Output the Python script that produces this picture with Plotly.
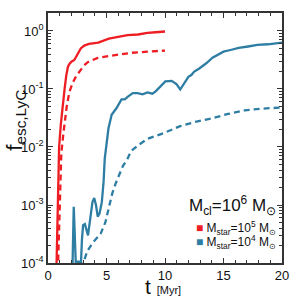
import plotly.graph_objects as go

# Red (M_star = 1e5) solid
t_red = [0.70, 0.78, 0.85, 0.95, 1.1, 1.28, 1.42, 1.56, 1.7, 1.83, 2.0, 2.25, 2.5, 2.8, 3.1, 3.5, 4.3, 4.6, 5.2, 6.0, 6.8, 7.7, 8.5, 9.2, 10.0]
f_red = [5e-5, 3.2e-4, 3.2e-3, 1.0e-2, 0.025, 0.062, 0.10, 0.17, 0.24, 0.27, 0.295, 0.316, 0.38, 0.50, 0.56, 0.60, 0.63, 0.66, 0.74, 0.79, 0.85, 0.87, 0.93, 0.95, 0.98]
# Red dashed
t_red_d = [0.82, 0.92, 1.0, 1.14, 1.3, 1.42, 1.6, 1.83, 2.1, 2.4, 2.8, 3.1, 3.4, 3.8, 4.2, 5.2, 6.4, 7.1, 8.5, 10.0]
f_red_d = [5e-5, 3.2e-4, 1.6e-3, 7.9e-3, 0.016, 0.028, 0.05, 0.089, 0.126, 0.166, 0.21, 0.257, 0.29, 0.316, 0.34, 0.37, 0.40, 0.42, 0.44, 0.46]
# Blue (M_star = 1e4) solid
t_blue = [1.97, 2.1, 2.2, 2.3, 2.39, 2.5, 2.6, 2.7, 2.8, 2.9, 3.0, 3.15, 3.3, 3.42, 3.6, 3.8, 3.95, 4.1, 4.25, 4.4, 4.6, 4.75, 4.85, 5.0, 5.17, 5.44, 5.86, 6.28, 6.56, 6.83, 7.25, 7.67, 8.08, 8.5, 8.92, 9.2, 9.61, 10.03, 10.58, 11.0, 11.3, 11.7, 12.0, 12.25, 12.5, 12.9, 13.5, 14.06, 14.6, 15.0, 15.6, 16.3, 17.1, 17.9, 18.8, 20.0]
f_blue = [5e-5, 1.0e-4, 9.3e-4, 1.6e-4, 8e-5, 1.1e-4, 8e-5, 1.1e-4, 8e-5, 2.5e-4, 4.5e-4, 4.7e-4, 3.5e-4, 3.0e-4, 5.6e-4, 1.12e-3, 1.32e-3, 1.0e-3, 6.3e-4, 7.1e-4, 1.12e-3, 2.5e-3, 6.3e-3, 0.0126, 0.021, 0.036, 0.047, 0.066, 0.066, 0.074, 0.085, 0.085, 0.081, 0.087, 0.083, 0.091, 0.11, 0.135, 0.138, 0.12, 0.098, 0.135, 0.162, 0.174, 0.20, 0.224, 0.275, 0.347, 0.40, 0.44, 0.47, 0.51, 0.54, 0.575, 0.59, 0.63]
# Blue dashed
t_blue_d = [2.85, 3.36, 3.8, 4.2, 4.5, 4.9, 5.2, 5.5, 5.8, 6.0, 6.4, 6.8, 7.1, 7.7, 8.5, 9.9, 11.3, 12.7, 14.1, 15.4, 16.8, 18.2, 20.0]
f_blue_d = [8e-5, 1.6e-4, 2.2e-4, 2.7e-4, 3.2e-4, 5.0e-4, 8.5e-4, 1.6e-3, 2.4e-3, 3.0e-3, 4.7e-3, 6.3e-3, 8.5e-3, 0.0107, 0.0138, 0.0174, 0.0229, 0.0275, 0.0316, 0.0372, 0.0427, 0.0457, 0.0479]

x_ticks = [0, 5, 10, 15, 20]
y_ticks = [1e-4, 1e-3, 1e-2, 1e-1, 1]
y_tick_text = ["10<sup>-4</sup>", "10<sup>-3</sup>", "10<sup>-2</sup>", "10<sup>-1</sup>", "10<sup>0</sup>"]
y_minor = [m * d for d in [1e-4, 1e-3, 1e-2, 1e-1, 1] for m in range(2, 10) if m * d < 2.0]

RED = "#ee1d23"
BLUE = "#2e7ea4"
FONT = "Liberation Sans"

fig = go.Figure()
fig.add_trace(go.Scatter(x=t_red, y=f_red, mode="lines", line=dict(color=RED, width=2.3), showlegend=False))
fig.add_trace(go.Scatter(x=t_red_d, y=f_red_d, mode="lines", line=dict(color=RED, width=2.3, dash="6px,4px"), showlegend=False))
fig.add_trace(go.Scatter(x=t_blue, y=f_blue, mode="lines", line=dict(color=BLUE, width=2.3), showlegend=False))
fig.add_trace(go.Scatter(x=t_blue_d, y=f_blue_d, mode="lines", line=dict(color=BLUE, width=2.3, dash="6px,4px"), showlegend=False))

axis_common = dict(showline=True, linecolor="#333", linewidth=1.5, mirror="ticks",
                   ticks="inside", ticklen=5, tickcolor="#333", tickwidth=1,
                   showgrid=False, zeroline=False,
                   tickfont=dict(family=FONT, size=13, color="#111"))

fig.update_xaxes(range=[0, 20], tickvals=x_ticks, ticktext=[str(v) for v in x_ticks],
                 minor=dict(ticks="inside", ticklen=3, dtick=1, tickcolor="#333", showgrid=False),
                 **axis_common)
fig.update_yaxes(type="log", range=[-4, 0.31], tickvals=y_ticks, ticktext=y_tick_text,
                 minor=dict(ticks="inside", ticklen=3, tickmode="array", tickvals=y_minor,
                            tickcolor="#333", showgrid=False),
                 **axis_common)

fig.update_layout(
    width=300, height=300,
    margin=dict(l=48, r=12, t=11, b=37),
    plot_bgcolor="white", paper_bgcolor="white",
    font=dict(family=FONT, color="#111"),
    annotations=[
        dict(text="f<sub>esc,LyC</sub>", xref="paper", yref="paper", x=-0.14, y=0.57,
             textangle=-90, showarrow=False, font=dict(size=22, family=FONT),
             xanchor="center", yanchor="middle"),
        dict(text="t <span style='font-size:11px'>[Myr]</span>", xref="paper", yref="paper",
             x=0.405, y=-0.095, showarrow=False, font=dict(size=21, family=FONT),
             xanchor="left", yanchor="middle"),
        dict(text="M<sub>cl</sub>=10<sup>6</sup> M<sub>⊙</sub>", xref="paper", yref="paper",
             x=0.985, y=0.23, showarrow=False, font=dict(size=17, family=FONT),
             xanchor="right", yanchor="middle"),
        dict(text="<span style='color:%s'>■</span> M<sub>star</sub>=10<sup>5</sup> M<sub>⊙</sub>" % RED,
             xref="paper", yref="paper", x=0.985, y=0.14, showarrow=False,
             font=dict(size=12, family=FONT), xanchor="right", yanchor="middle"),
        dict(text="<span style='color:%s'>■</span> M<sub>star</sub>=10<sup>4</sup> M<sub>⊙</sub>" % BLUE,
             xref="paper", yref="paper", x=0.985, y=0.085, showarrow=False,
             font=dict(size=12, family=FONT), xanchor="right", yanchor="middle"),
    ],
)

fig.write_html("out.html", config={"displayModeBar": False},
               post_script="document.body.style.margin='0';")
